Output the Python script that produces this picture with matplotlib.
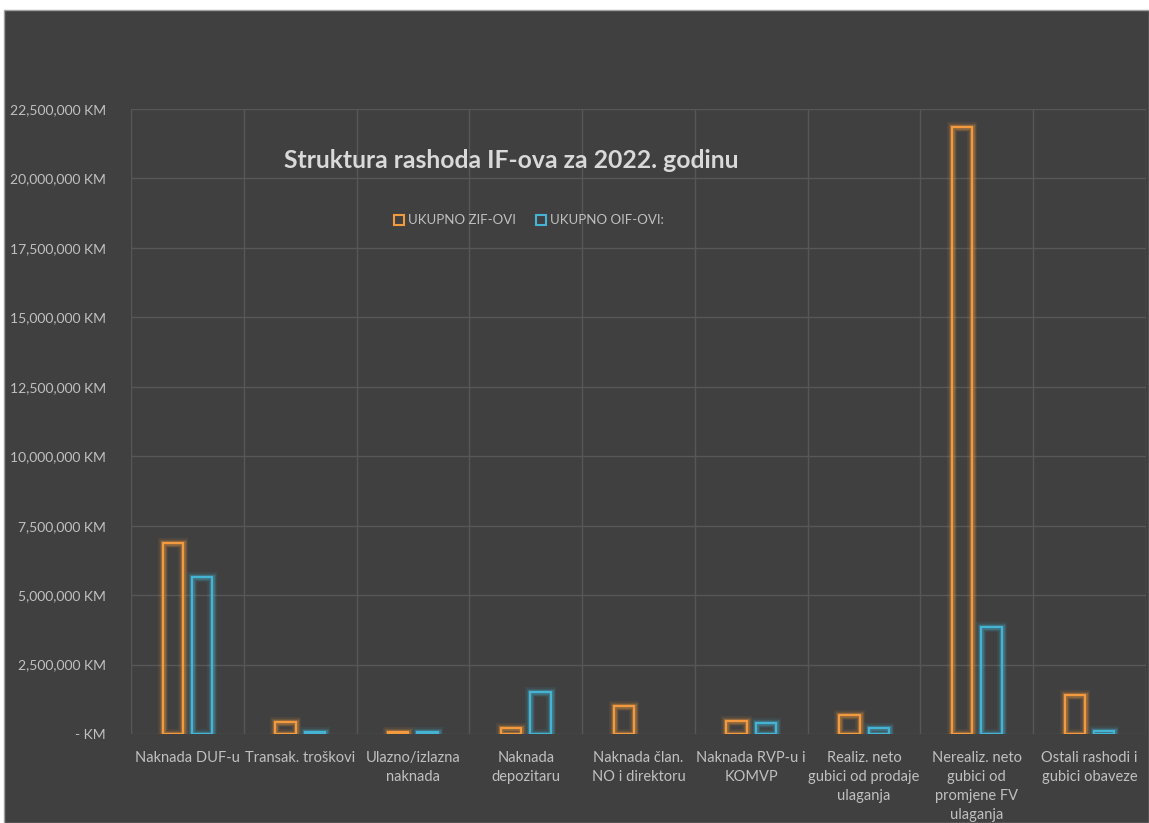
import matplotlib.pyplot as plt
import matplotlib.patches as mpatches
from matplotlib.ticker import FuncFormatter, MultipleLocator
import numpy as np

categories = [
    "Naknada DUF-u",
    "Transak. troškovi",
    "Ulazno/izlazna\nnaknada",
    "Naknada\ndepozitaru",
    "Naknada član.\nNO i direktoru",
    "Naknada RVP-u i\nKOMVP",
    "Realiz. neto\ngubici od prodaje\nulaganja",
    "Nerealiz. neto\ngubici od\npromjene FV\nulaganja",
    "Ostali rashodi i\ngubici obaveze",
]
zif_values = [6880000, 430000, 70000, 230000, 1000000, 480000, 680000, 21860000, 1410000]
oif_values = [5650000, 60000, 60000, 1520000, 0, 410000, 220000, 3850000, 120000]
series_names = ["UKUPNO ZIF-OVI", "UKUPNO OIF-OVI:"]

BG = "#404040"
GRID = "#575757"
TXT = "#C0C0C0"
ORANGE = "#F39A3E"
CYAN = "#45B3D3"

plt.rcParams["font.family"] = ["Lato", "DejaVu Sans"]

fig = plt.figure(figsize=(11.49, 8.23), dpi=100)
fig.patch.set_facecolor("white")
# dark chart area (white strip on top/left like the screenshot)
fig.patches.append(mpatches.Rectangle((4 / 1149, 0), 1 - 4 / 1149, 1 - 10 / 823,
                                      transform=fig.transFigure, facecolor=BG,
                                      edgecolor="#A0A0A0", linewidth=1, zorder=-5))

ax = fig.add_axes([131 / 1149, 1 - 734 / 823, 1015 / 1149, 625 / 823])
ax.set_facecolor("none")

x = np.arange(len(categories))
w = 0.18
off = 0.13


def glow_bars(xpos, vals, color):
    vals = np.asarray(vals, dtype=float)
    keep = vals > 0  # empty values draw no outline
    xpos, vals = xpos[keep], vals[keep]
    for lw, a in [(7, 0.10), (5, 0.15), (3.5, 0.25)]:
        ax.bar(xpos, vals, w, fill=False, edgecolor=color, linewidth=lw, alpha=a, zorder=3)
    ax.bar(xpos, vals, w, fill=False, edgecolor=color, linewidth=1.6, zorder=4)


glow_bars(x - off, zif_values, ORANGE)
glow_bars(x + off, oif_values, CYAN)

ax.set_xlim(-0.5, len(categories) - 0.5)
ax.set_ylim(0, 22500000)
ax.yaxis.set_major_locator(MultipleLocator(2500000))
ax.yaxis.set_major_formatter(FuncFormatter(lambda v, p: "- KM" if v == 0 else f"{v:,.0f} KM"))

ax.set_xticks(x)
ax.set_xticklabels(categories, color=TXT, fontsize=10.5, linespacing=1.45, va="top")
ax.set_xticks(np.arange(-0.5, len(categories)), minor=True)
ax.tick_params(axis="x", which="both", length=0, pad=12)
ax.tick_params(axis="y", length=0, pad=18, labelcolor=TXT, labelsize=10)

ax.grid(True, axis="y", color=GRID, linewidth=1, zorder=0)
ax.grid(True, axis="x", which="minor", color=GRID, linewidth=1, zorder=0)
ax.grid(False, axis="x", which="major")
ax.set_axisbelow(True)
for s in ax.spines.values():
    s.set_visible(False)

ax.text(0.375, 0.918, "Struktura rashoda IF-ova za 2022. godinu", transform=ax.transAxes,
        ha="center", va="center", fontsize=17.8, fontweight="bold", color="#D9D9D9")

handles = [mpatches.Patch(facecolor="none", edgecolor=ORANGE, linewidth=1.5),
           mpatches.Patch(facecolor="none", edgecolor=CYAN, linewidth=1.5)]
leg = ax.legend(handles, series_names, loc="center", bbox_to_anchor=(0.392, 0.822),
                ncol=2, frameon=False, fontsize=9.5, labelcolor=TXT,
                handlelength=0.8, handleheight=0.8, handletextpad=0.3, columnspacing=1.5)

fig.savefig("out.png", dpi=100, facecolor=fig.get_facecolor())
